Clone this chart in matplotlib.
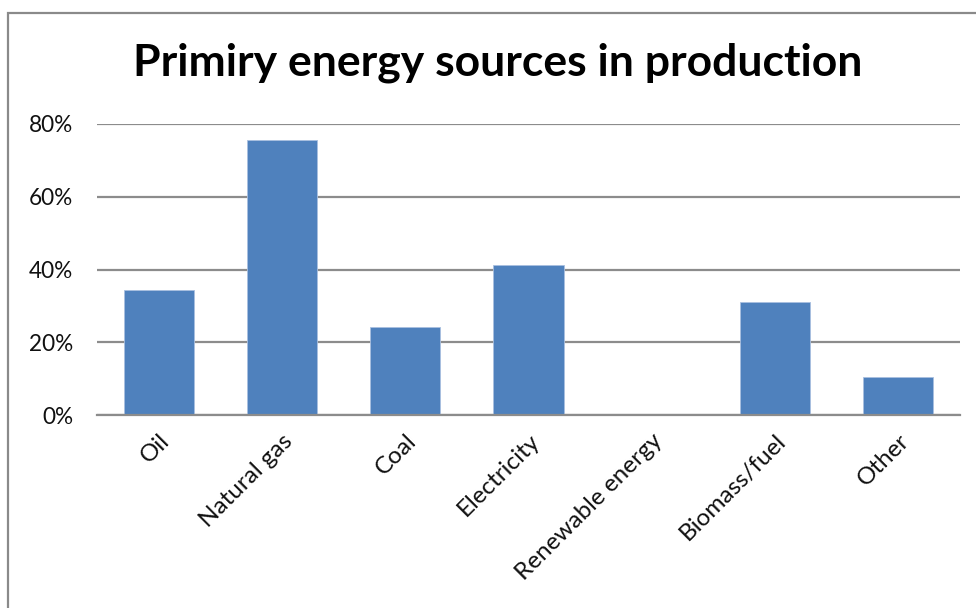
import matplotlib
matplotlib.use("Agg")
import matplotlib.pyplot as plt
from matplotlib.patches import Rectangle
from matplotlib.ticker import FuncFormatter

categories = ["Oil", "Natural gas", "Coal", "Electricity",
              "Renewable energy", "Biomass/fuel", "Other"]
shares = [0.344, 0.757, 0.242, 0.413, 0.0, 0.310, 0.104]
y_ticks = [0.0, 0.2, 0.4, 0.6, 0.8]
title_text = "Primiry energy sources in production"

W, H, DPI = 976, 608, 100
fig = plt.figure(figsize=(W / DPI, H / DPI), dpi=DPI)
fig.patch.set_facecolor("white")

font = ["Lato", "DejaVu Sans"]
grid_grey = "#8c8c8c"

# chart-area frame (top and left edges visible)
fig.add_artist(Rectangle((8 / W, -0.05), 1.2, (H - 12.5) / H + 0.05,
                         transform=fig.transFigure, fill=False,
                         edgecolor="#8a8a8a", linewidth=1.6))

ax = fig.add_axes([97 / W, (H - 415) / H, (960 - 97) / W, (415 - 124) / H])
x = range(len(categories))
ax.bar(x, shares, width=0.57, color="#4F81BD", edgecolor="#a9c0e0",
       linewidth=0.6, zorder=3)

ax.set_xlim(-0.5, len(categories) - 0.5)
ax.set_ylim(0, 0.8)
ax.set_yticks(y_ticks)
ax.yaxis.set_major_formatter(FuncFormatter(lambda v, p: f"{v * 100:.0f}%"))
ax.grid(axis="y", color=grid_grey, linewidth=1.6, zorder=0)
ax.set_axisbelow(True)

for s in ["top", "right", "left"]:
    ax.spines[s].set_visible(False)
ax.spines["bottom"].set_color(grid_grey)
ax.spines["bottom"].set_linewidth(1.6)
ax.spines["bottom"].set_zorder(4)

ax.tick_params(axis="y", length=0, pad=17, labelsize=16.3, labelcolor="#111111")
ax.tick_params(axis="x", length=0, pad=11)
ax.set_xticks(list(x))
ax.set_xticklabels(categories, rotation=45, ha="right", va="top",
                   rotation_mode="anchor", fontsize=17.5, color="#111111",
                   fontfamily=font)
for lbl in ax.get_xticklabels():
    lbl.set_x(lbl.get_position()[0])
for lbl in ax.get_yticklabels():
    lbl.set_fontfamily(font)

fig.text(498 / W, 1 - 63 / H, title_text, ha="center", va="center",
         fontsize=32, fontweight="bold", fontfamily=font, color="#000000")

fig.savefig("out.png", dpi=DPI, facecolor="white")
